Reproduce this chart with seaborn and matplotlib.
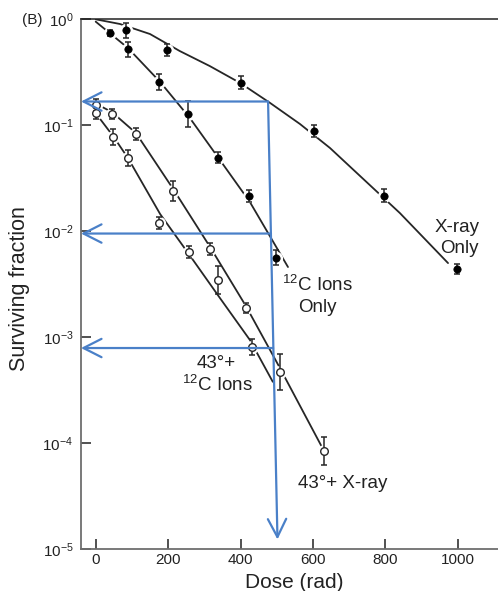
import numpy as np
import pandas as pd
import matplotlib
matplotlib.use("Agg")
import matplotlib.pyplot as plt
import seaborn as sns
from matplotlib.ticker import FixedLocator, NullLocator, LogFormatterSciNotation

# ---------------- data ----------------
xray_dose = [84, 196, 400, 602, 796, 998]
xray_sf = [0.79, 0.513, 0.253, 0.0883, 0.0217, 0.0044]
xray_err = [0.07, 0.057, 0.057, 0.057, 0.057, 0.047]          # decades

carbon_dose = [40, 90, 175, 254, 338, 422, 497]
carbon_sf = [0.738, 0.519, 0.256, 0.128, 0.0494, 0.0215, 0.00564]
carbon_err = [0.03, 0.075, 0.075, 0.12, 0.05, 0.057, 0.075]

hx_dose = [0, 46, 111, 213, 316, 415, 509, 631]
hx_sf = [0.155, 0.128, 0.082, 0.0239, 0.00675, 0.00187, 0.000471, 0.000084]
hx_err = [0.057, 0.047, 0.057, 0.094, 0.057, 0.047, 0.17, 0.13]

hc_dose = [0, 49, 88, 175, 259, 339, 433]
hc_sf = [0.131, 0.078, 0.0488, 0.0119, 0.0064, 0.00346, 0.00081]
hc_err = [0.057, 0.075, 0.075, 0.057, 0.057, 0.13, 0.075]

# fitted curves
xray_fit_dose = [0, 67, 150, 232, 315, 399, 482, 564, 647, 730, 840, 973]
xray_fit_sf = [1.0, 0.903, 0.726, 0.502, 0.362, 0.2506, 0.162, 0.1028,
               0.061, 0.0332, 0.01483, 0.0050]
carbon_fit_dose = [0, 89, 178, 260, 343, 426, 531]
carbon_fit_sf = [0.95, 0.536, 0.256, 0.117, 0.047, 0.0188, 0.00459]
hx_fit_dose = [0, 45, 111, 214, 316, 415, 509, 625]
hx_fit_sf = [0.16, 0.133, 0.0845, 0.025, 0.00708, 0.00196, 0.000509, 0.0000914]
hc_fit_dose = [0, 48, 89, 178, 261, 343, 426, 489]
hc_fit_sf = [0.13, 0.079, 0.0491, 0.0145, 0.00583, 0.00234, 0.000938, 0.000379]

# blue reading guides
guide_top = (476, 0.1675)
guide_bottom = (502, 0.0000123)
guide_levels_sf = [0.1675, 0.0095, 0.000789]
guide_levels_dose = [476, 484, 490]

x_ticks = [0, 200, 400, 600, 800, 1000]
y_ticks = [1e-5, 1e-4, 1e-3, 1e-2, 1e-1, 1e0]

# ---------------- styling ----------------
sns.set_style("ticks")
plt.rcParams["font.family"] = ["Liberation Sans", "DejaVu Sans"]
plt.rcParams["mathtext.fontset"] = "custom"
plt.rcParams["mathtext.rm"] = "Liberation Sans"
plt.rcParams["mathtext.it"] = "Liberation Sans:italic"
plt.rcParams["mathtext.bf"] = "Liberation Sans:bold"

W, H = 498, 591
fig = plt.figure(figsize=(W / 100, H / 100), dpi=100)
ax = fig.add_axes([81 / W, 1 - 549 / H, 417 / W, 529.7 / H])

LINE = "#262626"
BLUE = "#4a80c8"

def curve(d, s):
    df = pd.DataFrame({"dose": d, "sf": s})
    sns.lineplot(data=df, x="dose", y="sf", ax=ax, color=LINE, lw=1.3,
                 sort=False, estimator=None, zorder=2)

for d, s in [(xray_fit_dose, xray_fit_sf), (carbon_fit_dose, carbon_fit_sf),
             (hx_fit_dose, hx_fit_sf), (hc_fit_dose, hc_fit_sf)]:
    curve(d, s)

def points(d, s, e, filled):
    s = np.asarray(s, float)
    e = np.asarray(e, float)
    lo = s - s * 10 ** (-e)
    hi = s * 10 ** e - s
    # white halo that breaks the fit line around each symbol
    ax.plot(d, s, ls="none", marker="o", ms=8.5, mfc="white", mec="white", zorder=3)
    ax.errorbar(d, s, yerr=[lo, hi], fmt="none", ecolor=LINE, elinewidth=1.1,
                capsize=2.4, capthick=1.1, zorder=4)
    df = pd.DataFrame({"dose": d, "sf": s})
    if filled:
        sns.scatterplot(data=df, x="dose", y="sf", ax=ax, s=28, color="black",
                        edgecolor="black", linewidth=0.5, zorder=5)
    else:
        sns.scatterplot(data=df, x="dose", y="sf", ax=ax, s=30, color="white",
                        edgecolor=LINE, linewidth=1.0, zorder=5)

points(xray_dose, xray_sf, xray_err, True)
points(carbon_dose, carbon_sf, carbon_err, True)
points(hx_dose, hx_sf, hx_err, False)
points(hc_dose, hc_sf, hc_err, False)

ax.set_yscale("log")
ax.set_xlim(-40.6, 1111)
ax.set_ylim(1e-5, 1.0)
ax.xaxis.set_major_locator(FixedLocator(x_ticks))
ax.yaxis.set_major_locator(FixedLocator(y_ticks))
ax.yaxis.set_major_formatter(LogFormatterSciNotation())
ax.yaxis.set_minor_locator(NullLocator())
ax.xaxis.set_minor_locator(NullLocator())

# blue guides
arrow_kw = dict(arrowstyle="->,head_length=0.65,head_width=0.33", color=BLUE,
                lw=1.6, shrinkA=0, shrinkB=0, mutation_scale=20)
ax.annotate("", xy=guide_bottom, xytext=guide_top, arrowprops=arrow_kw, zorder=8)
xleft = ax.get_xlim()[0]
for d, s in zip(guide_levels_dose, guide_levels_sf):
    ax.annotate("", xy=(xleft, s), xytext=(d, s), arrowprops=arrow_kw, zorder=8)

# axes cosmetics
ax.tick_params(axis="both", which="major", direction="in", length=7, width=1.1,
               color="#222222", labelsize=11, labelcolor="#222222")
ax.tick_params(axis="y", pad=5.5)
ax.tick_params(axis="x", pad=3)
ax.spines["right"].set_visible(False)
ax.spines["top"].set_color("#222222")
ax.spines["top"].set_linewidth(1.1)
for sp in ("left", "bottom"):
    ax.spines[sp].set_color("#6e6e6e")
    ax.spines[sp].set_linewidth(1.3)

ax.set_xlabel("Dose (rad)", fontsize=15, color="#222222")
ax.set_ylabel("Surviving fraction", fontsize=15.5, color="#222222")
ax.xaxis.set_label_coords((294 - 81) / 417, (549 - 583) / 529.7)
ax.xaxis.label.set_va("center")
ax.yaxis.set_label_coords((20 - 81) / 417, (549 - 289) / 529.7)
ax.yaxis.label.set_va("center")

def ftext(x, y, s, **kw):
    fig.text(x / W, 1 - y / H, s, ha="center", va="center", fontsize=13.5,
             color="#222222", **kw)

fig.text(32 / W, 1 - 20 / H, "(B)", ha="center", va="center", fontsize=11, color="#222222")
ftext(457, 228, "X-ray")
ftext(459, 248, "Only")
ftext(317, 285, "$^{12}$C Ions")
ftext(317, 308, "Only")
ftext(216, 364, "43°+")
ftext(217, 385, "$^{12}$C Ions")
ftext(343, 483, "43°+ X-ray")

fig.savefig("out.png", dpi=100)
